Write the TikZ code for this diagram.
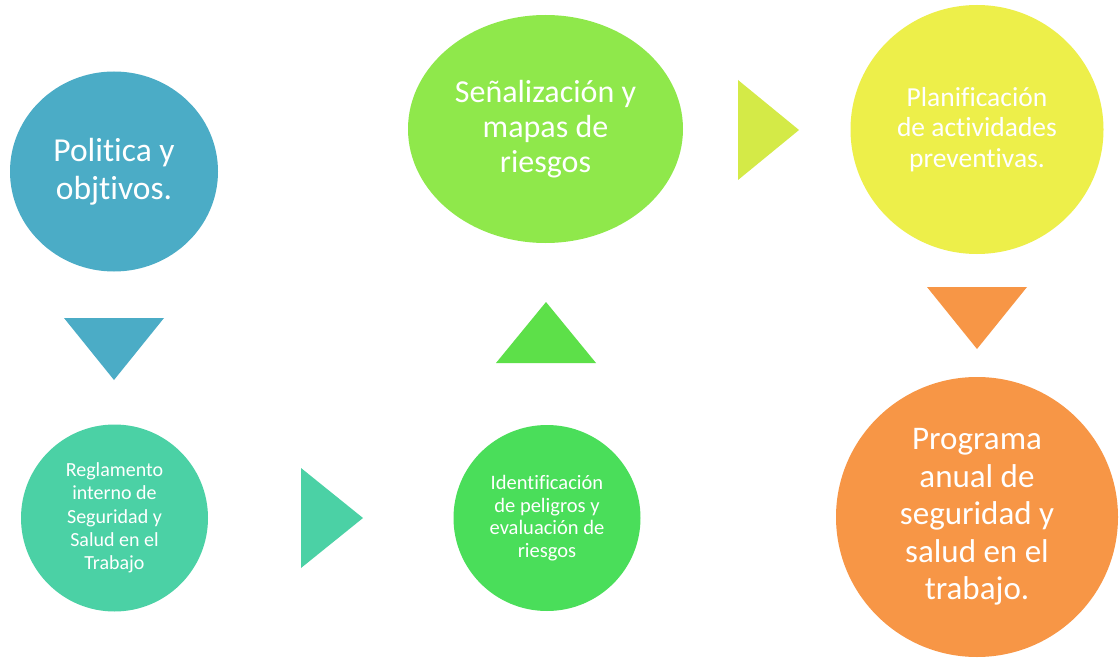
\documentclass[tikz,border=0pt]{standalone}
\usepackage{fontspec}
\setmainfont{Carlito}[Ligatures={NoCommon,NoContextual}]
\usetikzlibrary{shapes.geometric}
\definecolor{cA}{HTML}{4BACC6}
\definecolor{cB}{HTML}{4BD1A5}
\definecolor{cC}{HTML}{4ADE5A}
\definecolor{cCt}{HTML}{5DE049}
\definecolor{cD}{HTML}{8FE84B}
\definecolor{cDt}{HTML}{D4EA47}
\definecolor{cE}{HTML}{EDEF4A}
\definecolor{cF}{HTML}{F79646}
\tikzset{
  bub/.style={ellipse, draw=none, inner sep=0pt, text=white, align=center},
}
\begin{document}
\begin{tikzpicture}[x=1pt,y=-1pt]
\useasboundingbox[fill=white] (0,0) rectangle (1120,658);
% bubbles
\node[bub, fill=cA, minimum width=208pt, minimum height=200pt, font=\fontsize{33.5}{38}\selectfont] (pol) at (114,171.5) {Politica y\\objtivos.};
\node[bub, fill=cB, minimum width=187pt, minimum height=187pt, font=\fontsize{20}{23.3}\selectfont] (reg) at (114.5,518) {Reglamento\\interno de\\Seguridad y\\Salud en el\\Trabajo};
\node[bub, fill=cC, minimum width=187pt, minimum height=186pt, font=\fontsize{20.5}{22.6}\selectfont] (ide) at (547,518) {Identificación\\de peligros y\\evaluación de\\riesgos};
\node[bub, fill=cD, minimum width=275pt, minimum height=228pt, font=\fontsize{32}{35}\selectfont] (sen) at (545.5,129) {Señalización y\\mapas de\\riesgos};
\node[bub, fill=cE, minimum width=253pt, minimum height=249pt, font=\fontsize{27.5}{30.5}\selectfont] (pla) at (977,129.5) {Planificación\\de actividades\\preventivas.};
\node[bub, fill=cF, minimum width=282pt, minimum height=280pt, font=\fontsize{33}{37.5}\selectfont] (pro) at (977,517) {Programa\\anual de\\seguridad y\\salud en el\\trabajo.};
% arrow triangles
\fill[cA]  (64,318) -- (164,318) -- (114,380) -- cycle;
\fill[cB]  (301,468) -- (363,518) -- (301,568) -- cycle;
\fill[cCt] (496,363) -- (596,363) -- (546,302) -- cycle;
\fill[cDt] (738,80) -- (799,130) -- (738,180) -- cycle;
\fill[cF]  (927,287) -- (1027,287) -- (977,349) -- cycle;
\end{tikzpicture}
\end{document}
